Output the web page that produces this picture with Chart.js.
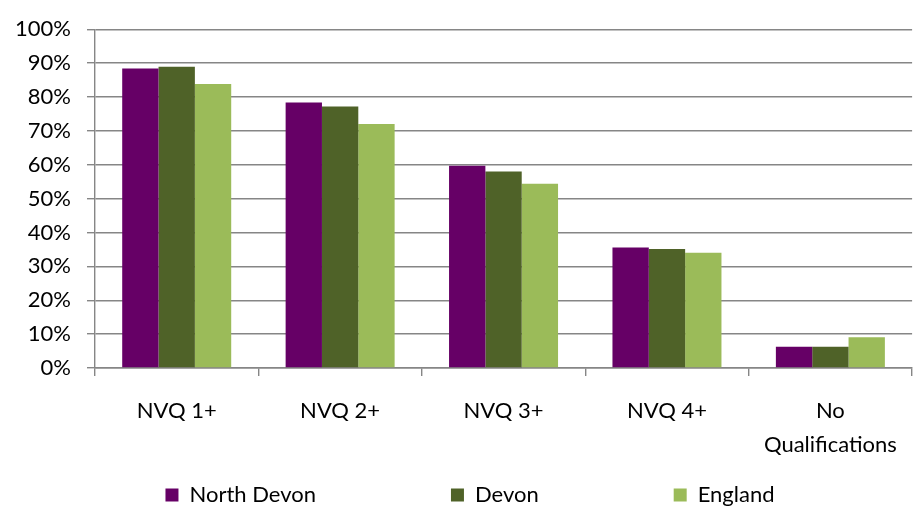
<!DOCTYPE html>
<html><head><meta charset="utf-8">
<script src="https://cdn.jsdelivr.net/npm/chart.js@4"></script>
<style>html,body{margin:0;padding:0;background:#fff}#wrap{width:915px;height:508px;position:relative}</style>
</head><body><div id="wrap"><canvas id="c" width="915" height="508"></canvas></div>
<script>
const categories = ['NVQ 1+', 'NVQ 2+', 'NVQ 3+', 'NVQ 4+', ['No', 'Qualifications']];
const seriesNames = ['North Devon', 'Devon', 'England'];
const northDevon = [88.4, 78.4, 59.7, 35.6, 6.3];
const devon = [88.9, 77.2, 58.0, 35.1, 6.3];
const england = [83.8, 72.0, 54.4, 34.0, 9.1];
const seriesColors = ['#660066', '#4F6228', '#9BBB59'];
const yTickLabels = ['0%', '10%', '20%', '30%', '40%', '50%', '60%', '70%', '80%', '90%', '100%'];

const FONT = 'Lato';
const gridColor = '#868686';
const LEGEND_GAP = 135;

new Chart(document.getElementById('c'), {
  type: 'bar',
  data: {
    labels: categories,
    datasets: [northDevon, devon, england].map((d, i) => ({
      label: seriesNames[i],
      data: d,
      backgroundColor: seriesColors[i],
      borderWidth: 0,
      categoryPercentage: 0.667,
      barPercentage: 1.0
    }))
  },
  options: {
    responsive: false,
    animation: false,
    layout: { padding: { left: 0, top: 20, right: -25, bottom: -8 } },
    plugins: {
      tooltip: { enabled: false },
      legend: {
        position: 'bottom',
        title: { display: true, text: '', font: { size: 10, lineHeight: 1 }, padding: { top: 16 - LEGEND_GAP - 10, bottom: 0 } },
        labels: {
          font: { family: FONT, size: 22 },
          color: '#000',
          boxWidth: 13,
          boxHeight: 13,
          padding: LEGEND_GAP
        }
      }
    },
    scales: {
      x: {
        grid: { display: true, drawOnChartArea: false, drawTicks: true, tickLength: 8, color: gridColor, lineWidth: 1.4, offset: true },
        border: { display: true, color: gridColor, width: 1.4 },
        ticks: { font: { family: FONT, size: 22, lineHeight: 1.55 }, color: '#000', padding: 18, maxRotation: 0, autoSkip: false },
        afterFit: s => { s.height = 100; }
      },
      y: {
        min: 0, max: 100,
        ticks: {
          stepSize: 10,
          font: { family: FONT, size: 22 },
          color: '#000',
          padding: 16,
          callback: (v, i) => yTickLabels[i]
        },
        grid: { color: gridColor, lineWidth: 1.4, tickLength: 8 },
        border: { color: gridColor, width: 1.4 },
        afterFit: s => { s.width = 95; }
      },
      yRight: {
        type: 'linear',
        position: 'right',
        display: true,
        ticks: { display: false },
        grid: { display: false },
        border: { display: false },
        afterFit: s => { s.width = 27; }
      }
    }
  }
});
</script></body></html>
